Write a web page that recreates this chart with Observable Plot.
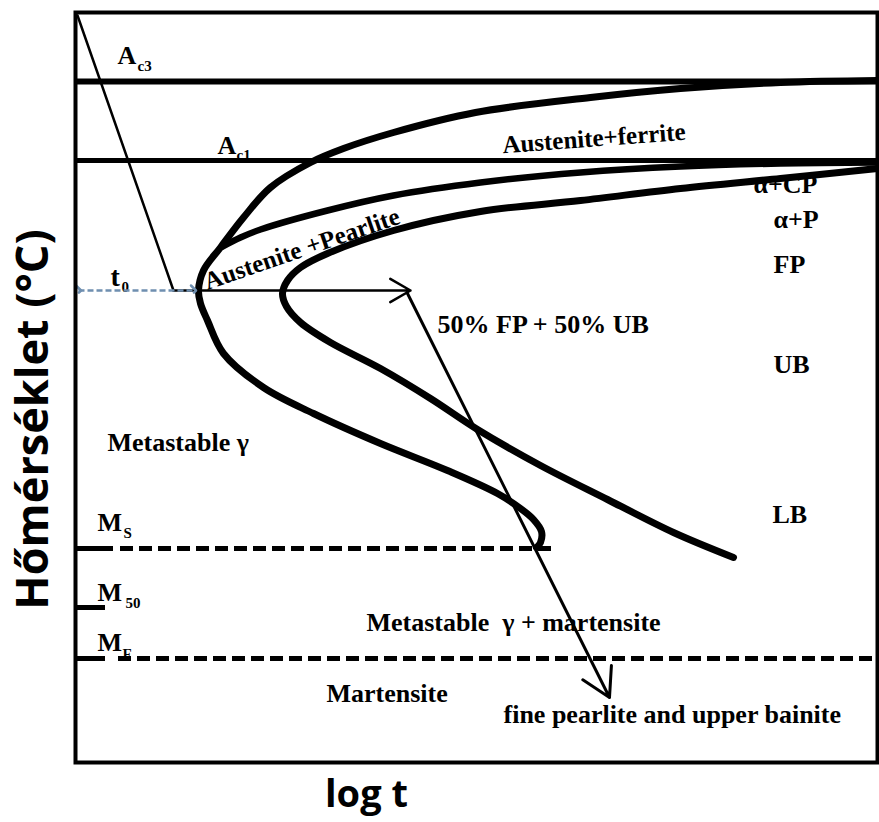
<!DOCTYPE html>
<html>
<head>
<meta charset="utf-8">
<script src="https://cdn.jsdelivr.net/npm/d3@7"></script>
<script src="https://cdn.jsdelivr.net/npm/@observablehq/plot@0.6"></script>
<style>
  body { margin: 0; background: #fff; }
  #chart svg { display: block; }
</style>
</head>
<body>
<div id="chart"></div>
<script>
// Schematic CCT diagram: x = log t, y = temperature (arbitrary diagram units)

// Critical temperatures
const Ac3 = 681;
const Ac1 = 602;
const Ms = 214;
const M50 = 155;
const Mf = 104;
const t0Temp = 472;

// Ferrite start curve (outer C), from long times through the nose to the lower end
const ferriteStart = [
  [802, 682], [705, 680], [605, 674], [515, 665], [400, 650], [318, 630],
  [268, 614], [235, 600], [195, 575], [168, 545], [145, 515], [128, 492],
  [123, 472], [125, 459], [132, 442], [148, 409], [188, 375], [238, 349],
  [305, 319], [372, 292], [422, 269], [445, 254], [458, 243], [466, 231],
  [465, 220], [461, 215]
];

// Pearlite start curve, branching from the ferrite curve
const pearliteStart = [
  [147, 516], [165, 525], [185, 533], [252, 552], [318, 567], [405, 580],
  [505, 590], [605, 596], [705, 599], [802, 600]
];

// Transformation finish curve (inner C)
const finishCurve = [
  [802, 594], [705, 584], [605, 574], [505, 562], [405, 551], [318, 532],
  [252, 509], [225, 495], [212, 482], [207, 469], [211, 456], [225, 440],
  [255, 420], [305, 394], [355, 364], [402, 333], [465, 297], [532, 263],
  [598, 230], [658, 205]
];

// Cooling path: quench to t0, hold, then continue cooling
const quench = [[2, 747], [98, t0Temp]];
const hold = [{x1: 98, y1: t0Temp, x2: 335, y2: t0Temp}];
const finalCool = [{x1: 332, y1: 469, x2: 534, y2: 65}];
const t0Span = [{x1: 3, x2: 118, y: t0Temp}];

// Region and phase labels (text, x, y at baseline)
const bigLabels = [
  {text: "A", x: 42, y: 699},
  {text: "A", x: 142, y: 609},
  {text: "α+CP", x: 678, y: 570},
  {text: "α+P", x: 698, y: 535},
  {text: "FP", x: 698, y: 490},
  {text: "50% FP + 50% UB", x: 362, y: 430},
  {text: "UB", x: 698, y: 390},
  {text: "Metastable γ", x: 32, y: 312},
  {text: "LB", x: 697, y: 240},
  {text: "M", x: 22, y: 232},
  {text: "M", x: 22, y: 162},
  {text: "M", x: 22, y: 112},
  {text: "Metastable  γ + martensite", x: 291, y: 132},
  {text: "Martensite", x: 251, y: 61},
  {text: "fine pearlite and upper bainite", x: 428, y: 40}
];
const timeLabel = [{text: "t", x: 35, y: 477}];
const subLabels = [
  {text: "c3", x: 62, y: 692},
  {text: "c1", x: 161, y: 603},
  {text: "0", x: 46, y: 471},
  {text: "S", x: 48, y: 225},
  {text: "50", x: 50, y: 155},
  {text: "F", x: 47, y: 104}
];
const slantedLabels = [
  {text: "Austenite+ferrite", x: 519, y: 616, angle: -4.2},
  {text: "Austenite +Pearlite", x: 229, y: 506, angle: -19}
];

const serif = "Liberation Serif, Times New Roman, serif";
const sans = "Open Sans, Lato, sans-serif";
const px = d => d[0];
const py = d => d[1];

const chart = Plot.plot({
  width: 879,
  height: 822,
  marginLeft: 75,
  marginRight: 2,
  marginTop: 12,
  marginBottom: 60,
  x: {domain: [0, 802], axis: null},
  y: {domain: [0, 750], axis: null},
  style: {background: "#fff", overflow: "visible"},
  marks: [
    // labels sit beneath the curves
    Plot.text(bigLabels, {x: "x", y: "y", text: "text", textAnchor: "start", lineAnchor: "bottom",
      fontFamily: serif, fontWeight: "bold", fontSize: 26, fill: "#000"}),
    Plot.text(timeLabel, {x: "x", y: "y", text: "text", textAnchor: "start", lineAnchor: "bottom",
      fontFamily: serif, fontWeight: "bold", fontSize: 28, fill: "#000"}),
    Plot.text(subLabels, {x: "x", y: "y", text: "text", textAnchor: "start", lineAnchor: "bottom",
      fontFamily: serif, fontWeight: "bold", fontSize: 15, fill: "#000"}),
    Plot.text(slantedLabels, {x: "x", y: "y", text: "text", rotate: "angle", textAnchor: "middle", lineAnchor: "bottom",
      fontFamily: serif, fontWeight: "bold", fontSize: 25, fill: "#000"}),

    // critical temperature lines
    Plot.ruleY([Ac3], {stroke: "#000", strokeWidth: 6}),
    Plot.ruleY([Ac1], {stroke: "#000", strokeWidth: 5}),
    Plot.ruleY([Ms], {x1: 0, x2: 38, stroke: "#000", strokeWidth: 5}),
    Plot.ruleY([Ms], {x1: 45, x2: 477, stroke: "#000", strokeWidth: 5, strokeDasharray: "13,6"}),
    Plot.ruleY([M50], {x1: 0, x2: 30, stroke: "#000", strokeWidth: 5}),
    Plot.ruleY([Mf], {x1: 0, x2: 30, stroke: "#000", strokeWidth: 5}),
    Plot.ruleY([Mf], {x1: 43, x2: 802, stroke: "#000", strokeWidth: 5, strokeDasharray: "13,6"}),

    // transformation curves
    Plot.line(ferriteStart, {x: px, y: py, curve: "catmull-rom", stroke: "#000", strokeWidth: 7, strokeLinecap: "round"}),
    Plot.line(pearliteStart, {x: px, y: py, curve: "catmull-rom", stroke: "#000", strokeWidth: 6.5, strokeLinecap: "round"}),
    Plot.line(finishCurve, {x: px, y: py, curve: "catmull-rom", stroke: "#000", strokeWidth: 7, strokeLinecap: "round"}),

    // cooling path
    Plot.line(quench, {x: px, y: py, stroke: "#000", strokeWidth: 2.5}),
    Plot.arrow(hold, {x1: "x1", y1: "y1", x2: "x2", y2: "y2", stroke: "#000", strokeWidth: 2.5, headLength: 14}),
    Plot.arrow(finalCool, {x1: "x1", y1: "y1", x2: "x2", y2: "y2", stroke: "#000", strokeWidth: 3, headLength: 16}),
    Plot.link(t0Span, {x1: "x1", x2: "x2", y1: "y", y2: "y", stroke: "#6f8fb0", strokeWidth: 2.5,
      strokeDasharray: "6,3", markerStart: "arrow", markerEnd: "arrow"}),

    Plot.frame({stroke: "#000", strokeWidth: 4}),

    // axis titles
    Plot.text(["log t"], {x: 291, y: -44, text: d => d, textAnchor: "middle", lineAnchor: "bottom",
      fontFamily: sans, fontWeight: "bold", fontSize: 38, fill: "#000"}),
    Plot.text(["Hőmérséklet (°C)"], {x: -42, y: 343, text: d => d, rotate: -90, textAnchor: "middle", lineAnchor: "middle",
      fontFamily: sans, fontWeight: "bold", fontSize: 45, fill: "#000"})
  ]
});

document.getElementById("chart").append(chart);
</script>
</body>
</html>
